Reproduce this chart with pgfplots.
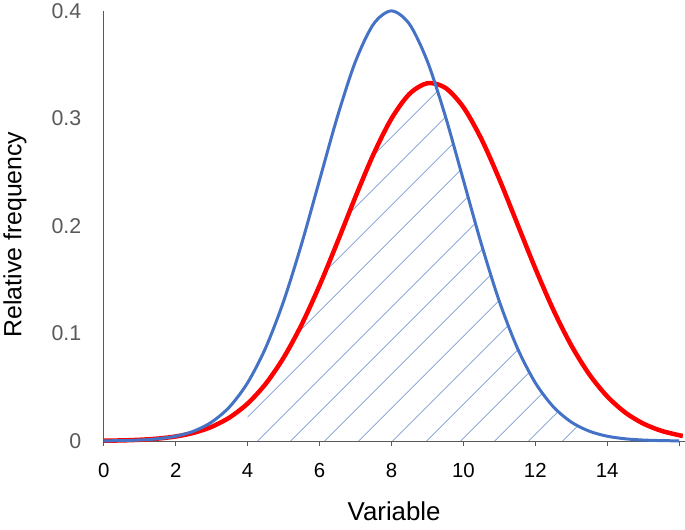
\documentclass[border=0pt]{standalone}
\usepackage{fontspec}
\setmainfont{Liberation Sans}
\usepackage{pgfplots}
\pgfplotsset{compat=1.18}
\usetikzlibrary{patterns.meta}
\definecolor{cblue}{HTML}{4472C4}
\definecolor{cred}{HTML}{FF0000}
\definecolor{axgray}{HTML}{595959}
\definecolor{hatch}{HTML}{5F86D0}
\begin{document}
\begin{tikzpicture}
\begin{axis}[
  scale only axis,
  width=582bp, height=431bp,
  xmin=0, xmax=16.15, ymin=0, ymax=0.4,
  axis lines=left,
  axis line style={draw=axgray, line width=0.9bp, -},
  xtick={0,2,...,16},
  xticklabels={0,2,4,6,8,10,12,14,},
  ytick={0,0.1,0.2,0.3,0.4},
  yticklabels={0,0.1,0.2,0.3,0.4},
  tick align=outside,
  xtick style={draw=axgray, line width=0.9bp},
  major tick length=5bp,
  ytick style={draw=none},
  x tick label style={font=\fontsize{20.5}{24}\selectfont, text=black, yshift=-14bp},
  y tick label style={font=\fontsize{21.5}{25}\selectfont, text=axgray, xshift=-14bp},
  xlabel={Variable},
  ylabel={Relative frequency},
  xlabel style={font=\fontsize{26}{31}\selectfont, at={(axis description cs:0.5,-0.163)}, anchor=center, inner ysep=9bp},
  ylabel style={font=\fontsize{25}{30}\selectfont, at={(axis description cs:-0.153,0.48)}, anchor=center},
  clip=false,
]
\addplot[draw=none, pattern={Lines[angle=45,distance=24bp,line width=0.6bp]}, pattern color=hatch] table {
x y
4 0.03482
4.5 0.05305
5 0.07740
5.5 0.10811
6 0.14460
6.5 0.18518
7 0.22708
7.5 0.26665
8 0.29980
8.5 0.32275
9 0.33271
9.3 0.32400
9.5 0.30194
10 0.24261
10.5 0.18313
11 0.12986
11.5 0.08651
12 0.05413
12.5 0.03182
13 0.01758
13.3 0.01200
} \closedcycle;
\addplot[cred, line width=4.5bp, smooth] table {
x y
0 0.00025
0.5 0.00054
1 0.00112
1.5 0.00221
2 0.00419
2.5 0.00759
3 0.01317
3.5 0.02189
4 0.03482
4.5 0.05305
5 0.07740
5.5 0.10811
6 0.14460
6.5 0.18518
7 0.22708
7.5 0.26665
8 0.29980
8.5 0.32275
9 0.33271
9.5 0.32841
10 0.31039
10.5 0.28090
11 0.24341
11.5 0.20198
12 0.16047
12.5 0.12208
13 0.08893
13.5 0.06202
14 0.04143
14.5 0.02649
15 0.01622
15.5 0.00951
16 0.00534
16.1 0.00473
};
\addplot[cblue, line width=3bp, smooth] table {
x y
0 0.00013
0.5 0.00035
1 0.00088
1.5 0.00203
2 0.00444
2.5 0.00912
3 0.01758
3.5 0.03182
4 0.05413
4.5 0.08651
5 0.12986
5.5 0.18313
6 0.24261
6.5 0.30194
7 0.35300
7.5 0.38769
8 0.40000
8.5 0.38769
9 0.35300
9.5 0.30194
10 0.24261
10.5 0.18313
11 0.12986
11.5 0.08651
12 0.05413
12.5 0.03182
13 0.01758
13.5 0.00912
14 0.00444
14.5 0.00203
15 0.00088
15.5 0.00035
16 0.00013
};
\end{axis}
\end{tikzpicture}
\end{document}
